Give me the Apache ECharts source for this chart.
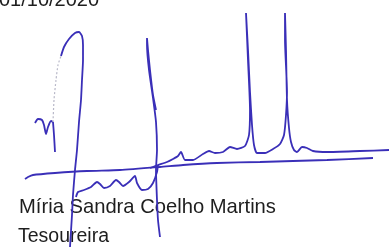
<!DOCTYPE html>
<html>
<head>
<meta charset="utf-8">
<script src="https://cdn.jsdelivr.net/npm/echarts@6/dist/echarts.min.js"></script>
<style>
  html, body { margin: 0; padding: 0; background: #fff; }
  #sign { width: 389px; height: 248px; }
</style>
</head>
<body>
<div id="sign"></div>
<script>
// texts
const dateText = '01/10/2020'
const nameText = 'Míria Sandra Coelho Martins'
const roleText = 'Tesoureira'

// pen strokes, [x, y] in the picture's own units (y down)
const hook = [[35, 123], [38, 119], [42, 120], [44, 125], [46, 134], [48, 127], [51, 121], [53, 122]]
const loopFaint = [[53, 122], [54, 100], [56, 80], [58, 65], [61, 56]]
const loop = [[55, 152], [54, 135], [53, 122]]
const loopTop = [[61, 56], [64, 47], [69, 39], [75, 33], [79, 32], [82, 36], [83, 45], [83, 60], [82, 80], [81, 100], [79, 122], [77, 150], [75, 170], [73, 195], [72, 215], [70, 247]]
const baseLine = [[25, 179], [28, 177], [33, 175], [55, 173], [87, 171], [120, 170], [160, 167], [183, 165], [217, 163], [260, 162], [293, 161], [327, 160], [373, 158]]
const lowWave = [[76, 197], [78, 192], [84, 190], [91, 187], [97, 182], [100, 184], [104, 188], [110, 186], [116, 180], [119, 182], [123, 186], [129, 182], [135, 176], [137, 183], [142, 190], [148, 189], [153, 183], [157, 172], [158, 165]]
const midStem = [[156, 110], [153, 95], [150, 70], [148, 50], [147, 38], [147, 45], [149, 70], [153, 98], [156, 122], [157, 150], [156, 170], [157, 200], [158, 220], [160, 237]]
const highWave = [[150, 168], [158, 165], [167, 162], [173, 159], [178, 156], [181, 152], [185, 160], [193, 160], [203, 154], [209, 151], [215, 153], [223, 152], [230, 147], [237, 149], [245, 146], [249, 135], [250, 110], [248, 60], [246, 13], [248, 50], [250, 92], [252, 125], [254, 145], [257, 153], [265, 153], [273, 149], [280, 144], [284, 135], [286, 115], [287, 92], [285, 40], [285, 13], [286, 50], [287, 100], [289, 128], [291, 142], [294, 150], [297, 152], [302, 147], [307, 148], [313, 151], [327, 152], [360, 151], [389, 150]]

const inkColor = '#3a2fb8'
const textColor = '#1e1e1e'

function stroke (data, extra) {
  return Object.assign({
    type: 'line',
    data: data,
    symbol: 'none',
    smooth: 0.2,
    silent: true,
    lineStyle: { color: inkColor, width: 1.8 }
  }, extra || {})
}

const options = {
  animation: false,
  grid: { left: 0, right: 0, top: 0, bottom: 0 },
  xAxis: { type: 'value', min: 0, max: 389, show: false },
  yAxis: { type: 'value', min: 0, max: 248, inverse: true, show: false },
  graphic: [
    { type: 'text', left: -1, top: -10, style: { text: dateText, fontSize: 20, fontFamily: 'Liberation Sans', fill: textColor } },
    { type: 'text', left: 19, top: 197, style: { text: nameText, fontSize: 20.2, fontFamily: 'Liberation Sans', fill: textColor } },
    { type: 'text', left: 18, top: 227, style: { text: roleText, fontSize: 19.5, fontFamily: 'Liberation Sans', fill: textColor } }
  ],
  series: [
    stroke(hook),
    stroke(loopFaint, { lineStyle: { color: '#b8b8c8', width: 1.2, type: [2, 2] } }),
    stroke(loop),
    stroke(loopTop),
    stroke(baseLine),
    stroke(lowWave),
    stroke(midStem),
    stroke(highWave)
  ]
}
const chart = echarts.init(document.getElementById('sign'))
chart.setOption(options)
</script>
</body>
</html>
